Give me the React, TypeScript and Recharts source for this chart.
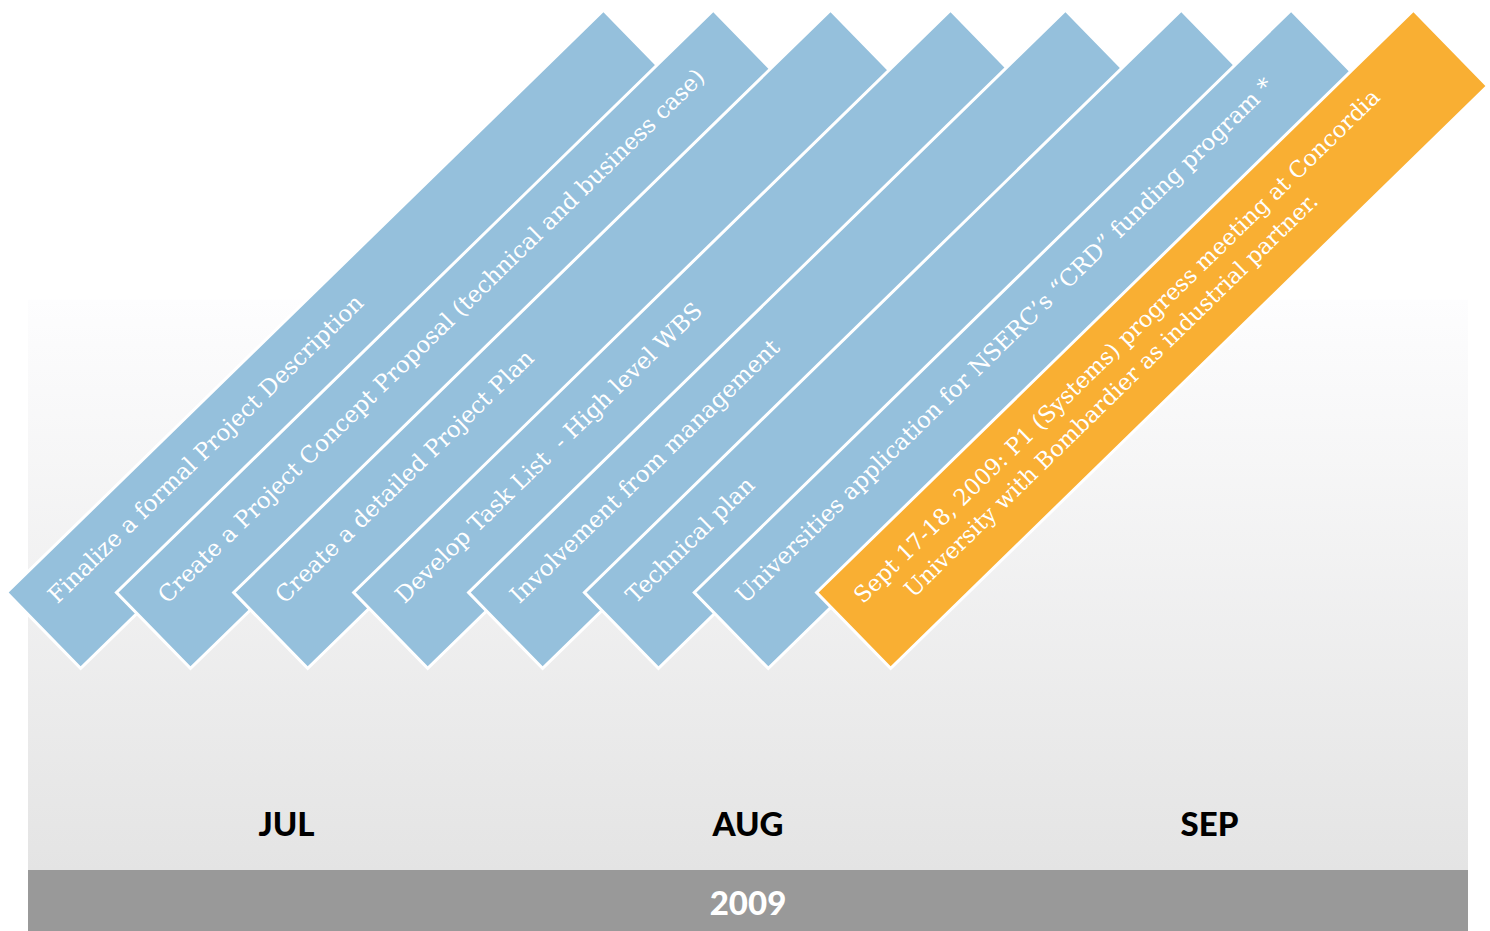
import React from 'react';
import { ComposedChart, Scatter, XAxis, YAxis, ReferenceArea } from 'recharts';

const months = ['JUL', 'AUG', 'SEP'];
const monthTicks = [0.5, 1.5, 2.5];
const yearLabel = '2009';

// lower corner of each card, in months from the start of July
const taskPositions = [0.054, 0.292, 0.546, 0.806, 1.055, 1.306, 1.544, 1.809];
const taskLabels = [
  ['Finalize a formal Project Description'],
  ['Create a Project Concept Proposal (technical and business case)'],
  ['Create a detailed Project Plan'],
  ['Develop Task List\u00a0 - High level WBS'],
  ['Involvement from management'],
  ['Technical plan'],
  ['Universities application for NSERC\u2019s \u201cCRD\u201d funding program *'],
  [
    'Sept 17-18, 2009: P1 (Systems) progress meeting at Concordia',
    'University with Bombardier as industrial partner.',
  ],
];
const taskMilestone = [false, false, false, false, false, false, false, true];
const cardLevel = 28.2; // % of chart height, measured from the bottom

const yearBand = [0, 6.55];
const monthPanel = [6.55, 67.8];

const tasks = taskPositions.map((pos, i) => ({
  pos,
  level: cardLevel,
  lines: taskLabels[i],
  milestone: taskMilestone[i],
}));

const ANGLE = 44.3;
const CARD_LEN = 834;
const CARD_W = 106;
const SIN = Math.sin((ANGLE * Math.PI) / 180);
const COS = Math.cos((ANGLE * Math.PI) / 180);

const TaskCard = (props: any) => {
  const { cx, cy, payload } = props;
  if (cx == null || cy == null) return null;
  const ox = cx - (CARD_W / 2) * SIN;
  const oy = cy - (CARD_W / 2) * COS;
  const lines: string[] = payload.lines;
  const two = lines.length > 1;
  return (
    <g transform={`translate(${ox},${oy}) rotate(${-ANGLE})`}>
      <rect
        x={0}
        y={-CARD_W / 2}
        width={CARD_LEN}
        height={CARD_W}
        fill={payload.milestone ? '#f9af33' : '#95c0dc'}
        stroke="#ffffff"
        strokeWidth={3}
      />
      {lines.map((t, i) => (
        <text
          key={i}
          x={two ? (i === 0 ? 25 : 65) : 28}
          y={two ? (i === 0 ? -12 : 19) : -9}
          fill="#ffffff"
          fontFamily="'DejaVu Serif', serif"
          fontSize={two ? 22.6 : 23}
          style={{ whiteSpace: 'pre' }}
        >
          {t}
        </text>
      ))}
    </g>
  );
};

const MonthTick = (props: any) => {
  const { x, payload } = props;
  return (
    <text
      x={x}
      y={823}
      textAnchor="middle"
      dominantBaseline="central"
      fill="#000000"
      fontFamily="Lato, 'DejaVu Sans', sans-serif"
      fontWeight={900}
      fontSize={33}
    >
      {months[Math.round(payload.value - 0.5)]}
    </text>
  );
};

export default function App() {
  return (
    <div style={{ width: 1490, height: 931, background: '#fff' }}>
      <style>{'body{margin:0}'}</style>
      <ComposedChart
        width={1490}
        height={931}
        data={tasks}
        margin={{ top: 0, right: 22, bottom: 0, left: 28 }}
      >
        <defs>
          <linearGradient id="panelFade" x1="0" y1="0" x2="0" y2="1">
            <stop offset="0%" stopColor="#fdfdfe" />
            <stop offset="100%" stopColor="#e4e4e4" />
          </linearGradient>
        </defs>
        <XAxis
          dataKey="pos"
          type="number"
          domain={[-0.06, 3.06]}
          ticks={monthTicks}
          interval={0}
          mirror
          axisLine={false}
          tickLine={false}
          tick={<MonthTick />}
        />
        <YAxis dataKey="level" type="number" domain={[0, 100]} hide />
        <ReferenceArea
          y1={monthPanel[0]}
          y2={monthPanel[1]}
          fill="url(#panelFade)"
          fillOpacity={1}
          stroke="none"
        />
        <ReferenceArea
          y1={yearBand[0]}
          y2={yearBand[1]}
          fill="#999999"
          fillOpacity={1}
          stroke="none"
          label={{
            value: yearLabel,
            position: 'center',
            fill: '#ffffff',
            fontSize: 33,
            fontWeight: 900,
            dy: 3,
            fontFamily: "Lato, 'DejaVu Sans', sans-serif",
          }}
        />
        <Scatter dataKey="level" shape={<TaskCard />} isAnimationActive={false} />
      </ComposedChart>
    </div>
  );
}
